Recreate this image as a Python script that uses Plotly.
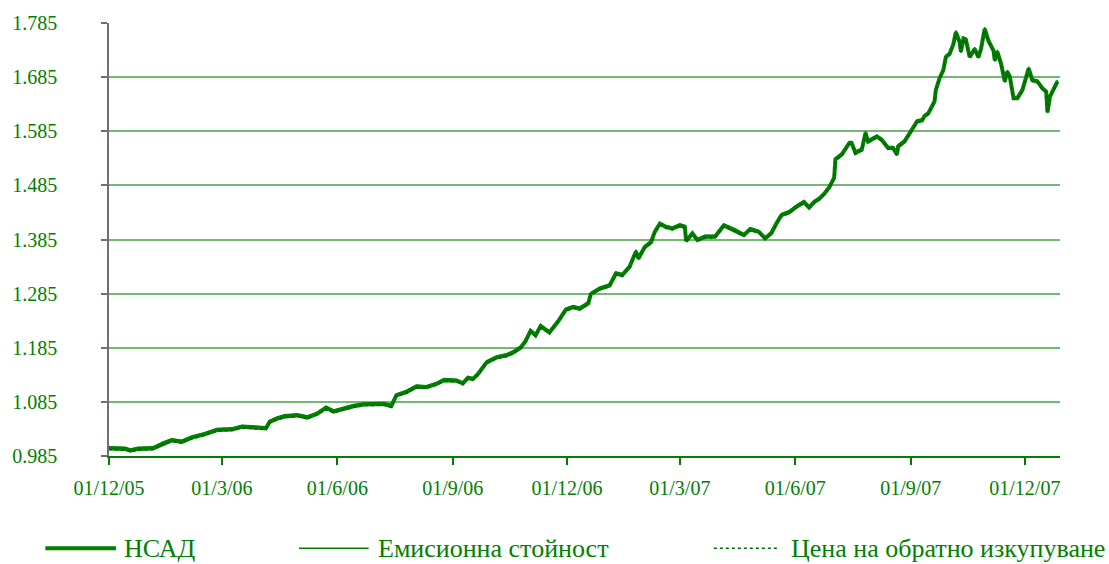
import plotly.graph_objects as go

# ---------------- data ----------------
dates = [
    "2005-12-01", "2005-12-14", "2005-12-18", "2005-12-24", "2006-01-05", "2006-01-13", "2006-01-20", "2006-01-28", "2006-02-05", "2006-02-15",
    "2006-02-25", "2006-03-09", "2006-03-17", "2006-04-05", "2006-04-08", "2006-04-14", "2006-04-20", "2006-04-30", "2006-05-08", "2006-05-16",
    "2006-05-23", "2006-05-29", "2006-06-06", "2006-06-14", "2006-06-22", "2006-06-30", "2006-07-08", "2006-07-14", "2006-07-18", "2006-07-26",
    "2006-08-03", "2006-08-11", "2006-08-19", "2006-08-25", "2006-09-02", "2006-09-04", "2006-09-09", "2006-09-13", "2006-09-17", "2006-09-21",
    "2006-09-28", "2006-10-06", "2006-10-14", "2006-10-19", "2006-10-25", "2006-10-29", "2006-11-02", "2006-11-06", "2006-11-10", "2006-11-17",
    "2006-11-24", "2006-11-30", "2006-12-06", "2006-12-11", "2006-12-18", "2006-12-20", "2006-12-27", "2007-01-04", "2007-01-09", "2007-01-14",
    "2007-01-20", "2007-01-25", "2007-01-27", "2007-02-01", "2007-02-06", "2007-02-09", "2007-02-13", "2007-02-18", "2007-02-23", "2007-03-01",
    "2007-03-05", "2007-03-06", "2007-03-11", "2007-03-15", "2007-03-21", "2007-03-29", "2007-04-05", "2007-04-14", "2007-04-21", "2007-04-26",
    "2007-05-03", "2007-05-08", "2007-05-13", "2007-05-17", "2007-05-21", "2007-05-27", "2007-06-01", "2007-06-08", "2007-06-12", "2007-06-16",
    "2007-06-20", "2007-06-24", "2007-06-28", "2007-07-02", "2007-07-03", "2007-07-08", "2007-07-14", "2007-07-16", "2007-07-19", "2007-07-24",
    "2007-07-27", "2007-07-29", "2007-08-05", "2007-08-09", "2007-08-14", "2007-08-18", "2007-08-21", "2007-08-22", "2007-08-27", "2007-09-02",
    "2007-09-06", "2007-09-10", "2007-09-12", "2007-09-15", "2007-09-20", "2007-09-21", "2007-09-24", "2007-09-27", "2007-09-29", "2007-10-02",
    "2007-10-05", "2007-10-07", "2007-10-10", "2007-10-11", "2007-10-13", "2007-10-15", "2007-10-18", "2007-10-22", "2007-10-25", "2007-10-27",
    "2007-10-30", "2007-11-02", "2007-11-06", "2007-11-07", "2007-11-09", "2007-11-12", "2007-11-14", "2007-11-15", "2007-11-17", "2007-11-19",
    "2007-11-22", "2007-11-25", "2007-11-29", "2007-12-04", "2007-12-07", "2007-12-11", "2007-12-15", "2007-12-18", "2007-12-19", "2007-12-21",
    "2007-12-27",
]

nav = [
    0.999, 0.998, 0.995, 0.998, 0.999, 1.008, 1.014, 1.011, 1.019, 1.025,
    1.033, 1.034, 1.039, 1.036, 1.048, 1.054, 1.058, 1.060, 1.056, 1.063,
    1.074, 1.067, 1.072, 1.077, 1.080, 1.080, 1.081, 1.077, 1.097, 1.103,
    1.113, 1.112, 1.118, 1.125, 1.125, 1.124, 1.119, 1.129, 1.127, 1.136,
    1.158, 1.167, 1.171, 1.176, 1.185, 1.197, 1.216, 1.208, 1.225, 1.213,
    1.234, 1.255, 1.260, 1.257, 1.267, 1.284, 1.294, 1.300, 1.322, 1.319,
    1.335, 1.363, 1.350, 1.371, 1.380, 1.399, 1.414, 1.408, 1.405, 1.411,
    1.408, 1.382, 1.396, 1.384, 1.390, 1.390, 1.411, 1.402, 1.393, 1.404,
    1.399, 1.387, 1.397, 1.415, 1.430, 1.435, 1.444, 1.454, 1.444, 1.454,
    1.460, 1.469, 1.481, 1.499, 1.533, 1.542, 1.563, 1.563, 1.545, 1.551,
    1.582, 1.566, 1.575, 1.569, 1.554, 1.554, 1.542, 1.557, 1.566, 1.588,
    1.603, 1.605, 1.613, 1.618, 1.640, 1.661, 1.683, 1.698, 1.722, 1.728,
    1.746, 1.768, 1.750, 1.732, 1.756, 1.754, 1.722, 1.737, 1.722, 1.737,
    1.774, 1.752, 1.734, 1.716, 1.732, 1.710, 1.692, 1.677, 1.695, 1.686,
    1.646, 1.646, 1.661, 1.701, 1.679, 1.677, 1.664, 1.658, 1.620, 1.649,
    1.677,
]

issue_value = [
    1.002, 1.001, 0.998, 1.001, 1.002, 1.011, 1.017, 1.014, 1.022, 1.028,
    1.036, 1.037, 1.042, 1.039, 1.051, 1.057, 1.061, 1.063, 1.059, 1.066,
    1.077, 1.070, 1.075, 1.080, 1.083, 1.083, 1.084, 1.080, 1.100, 1.106,
    1.116, 1.115, 1.121, 1.128, 1.128, 1.127, 1.122, 1.132, 1.130, 1.139,
    1.161, 1.170, 1.174, 1.179, 1.188, 1.200, 1.219, 1.211, 1.228, 1.216,
    1.237, 1.258, 1.263, 1.260, 1.270, 1.287, 1.297, 1.303, 1.325, 1.322,
    1.338, 1.366, 1.353, 1.374, 1.383, 1.402, 1.417, 1.411, 1.408, 1.414,
    1.411, 1.385, 1.399, 1.387, 1.393, 1.393, 1.414, 1.405, 1.396, 1.407,
    1.402, 1.390, 1.400, 1.418, 1.433, 1.438, 1.447, 1.457, 1.447, 1.457,
    1.463, 1.472, 1.484, 1.502, 1.536, 1.545, 1.566, 1.566, 1.548, 1.554,
    1.585, 1.569, 1.578, 1.572, 1.557, 1.557, 1.545, 1.560, 1.569, 1.591,
    1.606, 1.608, 1.616, 1.621, 1.643, 1.664, 1.686, 1.701, 1.725, 1.731,
    1.749, 1.771, 1.753, 1.735, 1.759, 1.757, 1.725, 1.740, 1.725, 1.740,
    1.777, 1.755, 1.737, 1.719, 1.735, 1.713, 1.695, 1.680, 1.698, 1.689,
    1.649, 1.649, 1.664, 1.704, 1.682, 1.680, 1.667, 1.661, 1.623, 1.652,
    1.680,
]

redemption_price = [
    0.997, 0.996, 0.993, 0.996, 0.997, 1.006, 1.012, 1.009, 1.017, 1.023,
    1.031, 1.032, 1.037, 1.034, 1.046, 1.052, 1.056, 1.058, 1.054, 1.061,
    1.072, 1.065, 1.070, 1.075, 1.078, 1.078, 1.079, 1.075, 1.095, 1.101,
    1.111, 1.110, 1.116, 1.123, 1.123, 1.122, 1.117, 1.127, 1.125, 1.134,
    1.156, 1.165, 1.169, 1.174, 1.183, 1.195, 1.214, 1.206, 1.223, 1.211,
    1.232, 1.253, 1.258, 1.255, 1.265, 1.282, 1.292, 1.298, 1.320, 1.317,
    1.333, 1.361, 1.348, 1.369, 1.378, 1.397, 1.412, 1.406, 1.403, 1.409,
    1.406, 1.380, 1.394, 1.382, 1.388, 1.388, 1.409, 1.400, 1.391, 1.402,
    1.397, 1.385, 1.395, 1.413, 1.428, 1.433, 1.442, 1.452, 1.442, 1.452,
    1.458, 1.467, 1.479, 1.497, 1.531, 1.540, 1.561, 1.561, 1.543, 1.549,
    1.580, 1.564, 1.573, 1.567, 1.552, 1.552, 1.540, 1.555, 1.564, 1.586,
    1.601, 1.603, 1.611, 1.616, 1.638, 1.659, 1.681, 1.696, 1.720, 1.726,
    1.744, 1.766, 1.748, 1.730, 1.754, 1.752, 1.720, 1.735, 1.720, 1.735,
    1.772, 1.750, 1.732, 1.714, 1.730, 1.708, 1.690, 1.675, 1.693, 1.684,
    1.644, 1.644, 1.659, 1.699, 1.677, 1.675, 1.662, 1.656, 1.618, 1.647,
    1.675,
]

series_names = ["НСАД", "Емисионна стойност", "Цена на обратно изкупуване"]

x_tick_dates = ["2005-12-01", "2006-03-01", "2006-06-01", "2006-09-01", "2006-12-01",
                "2007-03-01", "2007-06-01", "2007-09-01", "2007-12-01"]
x_tick_labels = ["01/12/05", "01/3/06", "01/6/06", "01/9/06", "01/12/06",
                 "01/3/07", "01/6/07", "01/9/07", "01/12/07"]
y_ticks = [0.985, 1.085, 1.185, 1.285, 1.385, 1.485, 1.585, 1.685, 1.785]
y_tick_labels = ["0.985", "1.085", "1.185", "1.285", "1.385", "1.485", "1.585", "1.685", "1.785"]

# ---------------- styling ----------------
GREEN = "#008000"
GRID = "#74b874"
FONT = "Liberation Serif"
W, H = 1109, 564
L, R, T, B = 104, 49, 19, 108
PW, PH = W - L - R, H - T - B

fig = go.Figure()
fig.add_trace(go.Scatter(x=dates, y=nav, mode="lines", name=series_names[0],
                         line=dict(color=GREEN, width=4), showlegend=False))
fig.add_trace(go.Scatter(x=dates, y=issue_value, mode="lines", name=series_names[1],
                         line=dict(color=GREEN, width=1.5), showlegend=False))
fig.add_trace(go.Scatter(x=dates, y=redemption_price, mode="lines", name=series_names[2],
                         line=dict(color="#006400", width=1.5, dash="3px,3px"), showlegend=False))


def px_x(p):
    return (p - L) / PW


def px_y(p):
    return (H - B - p) / PH


# manual legend (line samples + labels) laid out like the original
legend_items = [
    (40, 111, 117, dict(color=GREEN, width=4)),
    (295, 365, 372, dict(color=GREEN, width=1.5)),
    (712, 777, 788, dict(color="#006400", width=1.5, dash="3px,3px")),
]
shapes = []
annotations = []
ly = 549
for (x0, x1, tx, ln), name in zip(legend_items, series_names):
    shapes.append(dict(type="line", xref="paper", yref="paper",
                       x0=px_x(x0), x1=px_x(x1), y0=px_y(ly), y1=px_y(ly), line=ln))
    annotations.append(dict(text=name, xref="paper", yref="paper", x=px_x(tx), y=px_y(ly),
                            xanchor="left", yanchor="middle", showarrow=False,
                            font=dict(family=FONT, size=26, color=GREEN)))

fig.update_layout(
    width=W, height=H,
    margin=dict(l=L, r=R, t=T, b=B),
    paper_bgcolor="white", plot_bgcolor="white",
    font=dict(family=FONT, color=GREEN, size=20),
    shapes=shapes, annotations=annotations,
    showlegend=False,
)
fig.update_xaxes(
    type="date", range=["2005-12-01", "2007-12-29"],
    tickvals=x_tick_dates, ticktext=x_tick_labels,
    showgrid=False, showline=True, linecolor=GREEN, linewidth=1.5,
    ticks="outside", ticklen=7, tickcolor=GREEN, tickwidth=1.5,
    tickfont=dict(family=FONT, size=20, color=GREEN),
    ticklabelstandoff=6,
)
fig.update_yaxes(
    range=[0.985, 1.785], tickvals=y_ticks, ticktext=y_tick_labels,
    showgrid=True, gridcolor=GRID, gridwidth=1.5,
    showline=True, linecolor="#707070", linewidth=1.5,
    ticks="outside", ticklen=6, tickcolor="#707070", tickwidth=1.5,
    tickfont=dict(family=FONT, size=20, color=GREEN),
    ticklabelstandoff=40, zeroline=False,
)

fig.write_html(
    "out.html",
    config={"displayModeBar": False},
    post_script="document.body.style.margin='0';document.body.style.overflow='hidden';",
)
